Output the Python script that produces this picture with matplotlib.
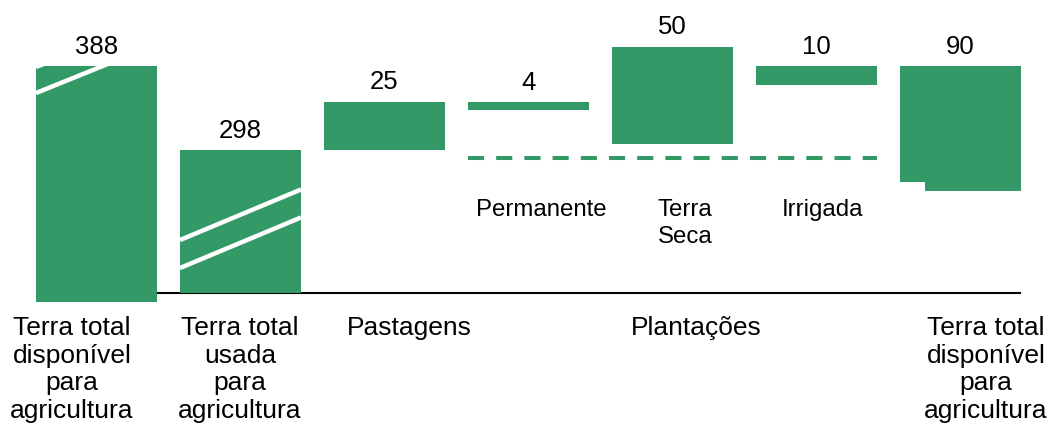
import matplotlib
matplotlib.use("Agg")
import matplotlib.pyplot as plt

plt.rcParams["font.family"] = ["Liberation Sans", "DejaVu Sans"]

# --- data -------------------------------------------------------------
categories = [
    "Terra total\ndisponível\npara\nagricultura",
    "Terra total\nusada\npara\nagricultura",
    "Pastagens",
    "Plantações",
    "Terra total\ndisponível\npara\nagricultura",
]
crop_types = ["Permanente", "Terra\nSeca", "Irrigada"]
values = [388, 298, 25, 4, 50, 10, 90]
value_labels = ["388", "298", "25", "4", "50", "10", "90"]

# --- styling / layout -------------------------------------------------
GREEN = "#339966"
BAR_W = 0.84
PX = 1.94          # pixels per unit on the vertical axis
BASE_PX = 293      # baseline position in pixels from the top

def y_of(px):
    return (BASE_PX - px) / PX

fig = plt.figure(figsize=(10.49, 4.32), dpi=100)
ax = fig.add_axes([0, 0, 1, 1])
ax.set_xlim(-96.5 / 144, (1049 - 96.5) / 144)
ax.set_ylim(y_of(432), y_of(0))
ax.axis("off")

# amount hidden by the scale breaks on the large bars
cut = {0: 266.4, 1: 224.3, 6: 25.6}

# baseline
ax.plot([-BAR_W / 2, 6 + BAR_W / 2], [0, 0], color="black", lw=1.5, zorder=1,
        solid_capstyle="butt")

tops = {}
rects = {}

# bar 0: total available land (broken)
b0 = -4.6
h0 = values[0] - cut[0]
rects[0] = ax.bar(0, h0, BAR_W, bottom=b0, color=GREEN, zorder=2)[0]
tops[0] = b0 + h0

# bar 1: total used land (broken)
h1 = values[1] - cut[1]
rects[1] = ax.bar(1, h1, BAR_W, bottom=0, color=GREEN, zorder=2)[0]
tops[1] = h1

# bar 2: pastures, floating on top of bar 1
ax.bar(2, values[2], BAR_W, bottom=tops[1], color=GREEN, zorder=2)
tops[2] = tops[1] + values[2]

# crop bars
crop_bottoms = [y_of(110), y_of(144), tops[0] - values[5]]
for k, i in enumerate([3, 4, 5]):
    ax.bar(i, values[i], BAR_W, bottom=crop_bottoms[k], color=GREEN, zorder=2)
    tops[i] = crop_bottoms[k] + values[i]

# bar 6: remaining available land (top aligned with bar 0)
h6 = values[6] - cut[6]
b6 = tops[0] - h6
strip = 25 / 144
ax.bar(6, h6 - 4.6, BAR_W, bottom=b6 + 4.6, color=GREEN, zorder=2)
ax.bar(6 - BAR_W / 2 + strip, 4.6 + 0.5, BAR_W - strip, bottom=b6, align="edge",
       color=GREEN, zorder=2)
tops[6] = tops[0]

# scale-break marks
def break_marks(idx, y_left, slope):
    x0, x1 = idx - BAR_W / 2, idx + BAR_W / 2
    for yl in y_left:
        ln, = ax.plot([x0, x1], [yl, yl + slope * (x1 - x0)], color="white",
                      lw=3.2, zorder=3, solid_capstyle="butt")
        ln.set_clip_path(rects[idx])

break_marks(0, [y_of(93), y_of(67)], 30)
break_marks(1, [y_of(268), y_of(240)], 31)

# dashed reference under the crop bars
ax.plot([3 - BAR_W / 2, 5 + BAR_W / 2], [y_of(158)] * 2, color=GREEN, lw=2.9,
        dashes=(4, 3), dash_capstyle="butt", zorder=2)

# value labels
for i, lab in enumerate(value_labels):
    ax.annotate(lab, (i, tops[i]), xytext=(0, 9), textcoords="offset points",
                ha="center", va="baseline", fontsize=18.5, color="black")

# category labels
cat_x_px = [72, 240, 409, 696, 986]
for lab, xp in zip(categories, cat_x_px):
    ax.text((xp - 96.5) / 144, y_of(316), lab, ha="center", va="top",
            fontsize=19, linespacing=1.19, color="black")

# crop type labels
crop_x_px = [541, 685, 823]
for lab, xp in zip(crop_types, crop_x_px):
    ax.text((xp - 96.5) / 144, y_of(199), lab, ha="center", va="top",
            fontsize=17.3, linespacing=1.32, color="black")

fig.savefig("out.png", dpi=100)
